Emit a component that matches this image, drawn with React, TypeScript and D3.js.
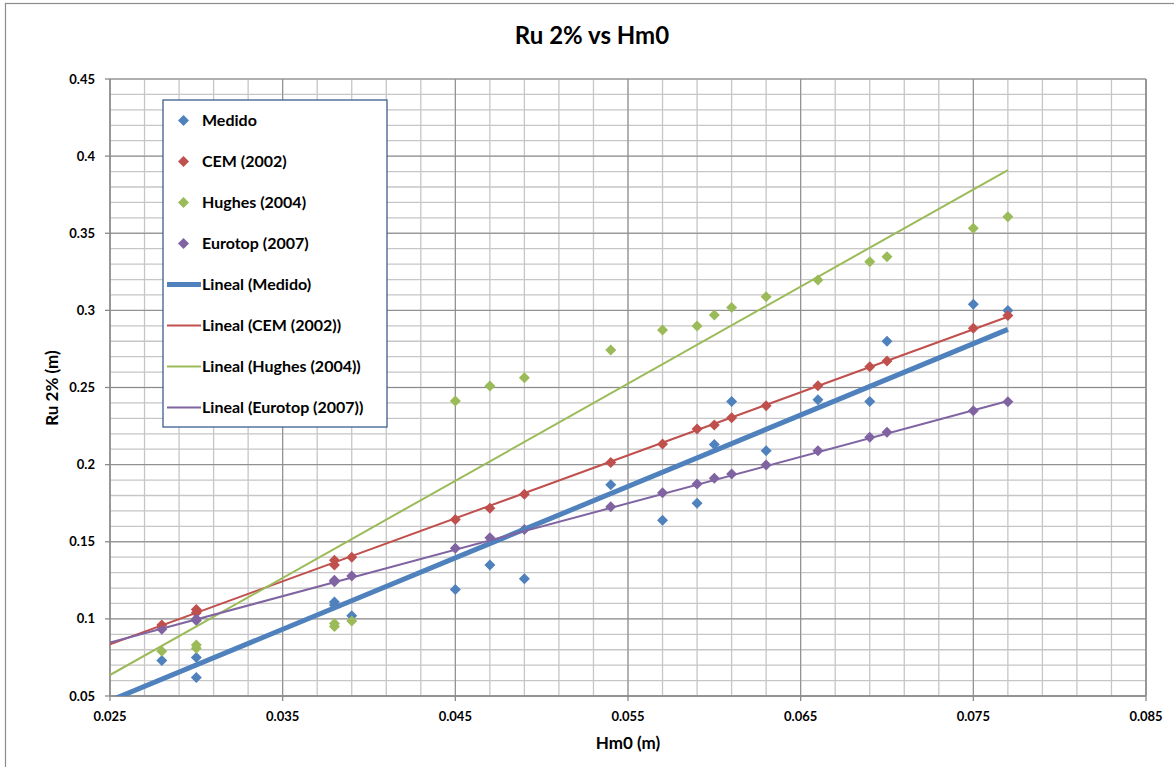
import React from "react";
import * as d3 from "d3";

const hm0 = [0.028, 0.030, 0.030, 0.038, 0.038, 0.039, 0.045, 0.047, 0.049, 0.054, 0.057, 0.059, 0.060, 0.061, 0.063, 0.066, 0.069, 0.070, 0.075, 0.077];
const medido = [0.073, 0.075, 0.062, 0.111, 0.109, 0.102, 0.119, 0.135, 0.126, 0.187, 0.164, 0.175, 0.213, 0.241, 0.209, 0.242, 0.241, 0.280, 0.304, 0.300];
const cem = [0.096, 0.104, 0.106, 0.135, 0.138, 0.140, 0.1645, 0.1717, 0.1808, 0.2013, 0.2134, 0.2231, 0.2257, 0.2304, 0.2382, 0.2512, 0.2635, 0.2672, 0.2884, 0.2966];
const hughes = [0.079, 0.081, 0.083, 0.097, 0.095, 0.0986, 0.2412, 0.251, 0.2564, 0.2743, 0.2873, 0.2899, 0.297, 0.3018, 0.3089, 0.3197, 0.3316, 0.3348, 0.3532, 0.3607];
const eurotop = [0.0932, 0.099, 0.100, 0.124, 0.125, 0.1278, 0.1458, 0.1526, 0.158, 0.1727, 0.1818, 0.1874, 0.1911, 0.1939, 0.1998, 0.209, 0.2177, 0.221, 0.235, 0.2408];

// Linear trendlines (Excel "Lineal"), values read at Hm0 = trendX[0] and trendX[1]
const trendX = [0.025, 0.077];
const trendMedido = [0.0470, 0.2877];
const trendCem = [0.0835, 0.2959];
const trendHughes = [0.0636, 0.3910];
const trendEurotop = [0.0846, 0.2412];

const seriesNames = ["Medido", "CEM (2002)", "Hughes (2004)", "Eurotop (2007)"];
const seriesColors = ["#4F81BD", "#C0504D", "#9BBB59", "#8064A2"];
const trendWidths = [5, 2, 2, 2];
const seriesValues = [medido, cem, hughes, eurotop];
const trendValues = [trendMedido, trendCem, trendHughes, trendEurotop];

const xTicks = [0.025, 0.035, 0.045, 0.055, 0.065, 0.075, 0.085];
const yTicks = [0.05, 0.1, 0.15, 0.2, 0.25, 0.3, 0.35, 0.4, 0.45];

const FONT = "Lato, 'Open Sans', sans-serif";

function diamond(cx: number, cy: number, r: number) {
  return `M${cx},${cy - r}L${cx + r},${cy}L${cx},${cy + r}L${cx - r},${cy}Z`;
}

export default function App() {
  const W = 1174, H = 767;
  const left = 110, right = 1146, top = 79, bottom = 696;
  const x = d3.scaleLinear().domain([0.025, 0.085]).range([left, right]);
  const y = d3.scaleLinear().domain([0.05, 0.45]).range([bottom, top]);

  const minorX = d3.range(0, 31).map((i) => 0.025 + i * 0.002);
  const minorY = d3.range(0, 41).map((i) => 0.05 + i * 0.01);

  const legendItems = [
    ...seriesNames.map((n, i) => ({ label: n, color: seriesColors[i], type: "marker", w: 0 })),
    ...seriesNames.map((n, i) => ({ label: `Lineal (${n})`, color: seriesColors[i], type: "line", w: trendWidths[i] })),
  ];

  const trendLine = d3.line<number>().x((_, i) => x(trendX[i])).y((v) => y(v));

  return (
    <svg width={W} height={H} style={{ position: "absolute", left: 0, top: 0 }} fontFamily={FONT}>
      <rect x={0} y={0} width={W} height={H} fill="#fff" />
      <rect x={5.5} y={3.5} width={W + 20} height={H + 20} fill="none" stroke="#8c8c8c" strokeWidth={1.2} />
      <defs>
        <clipPath id="plotClip">
          <rect x={left} y={top} width={right - left} height={bottom - top} />
        </clipPath>
      </defs>
      <text x={592} y={44} textAnchor="middle" fontSize={24} fontWeight="bold" fill="#000">Ru 2% vs Hm0</text>

      {/* minor grid */}
      {minorX.map((v, i) => (
        <line key={"mx" + i} x1={x(v)} x2={x(v)} y1={top} y2={bottom} stroke="#c6c6c6" strokeWidth={1.3} />
      ))}
      {minorY.map((v, i) => (
        <line key={"my" + i} x1={left} x2={right} y1={y(v)} y2={y(v)} stroke="#c6c6c6" strokeWidth={1.3} />
      ))}
      {/* major grid */}
      {xTicks.map((v, i) => (
        <line key={"Mx" + i} x1={x(v)} x2={x(v)} y1={top} y2={bottom} stroke="#8a8a8a" strokeWidth={1} />
      ))}
      {yTicks.map((v, i) => (
        <line key={"My" + i} x1={left} x2={right} y1={y(v)} y2={y(v)} stroke="#8a8a8a" strokeWidth={1} />
      ))}
      <line x1={right} x2={right} y1={top} y2={bottom} stroke="#8a8a8a" strokeWidth={1.3} />

      {/* axes */}
      <line x1={left} x2={left} y1={top} y2={bottom} stroke="#8a8a8a" strokeWidth={1.3} />
      <line x1={left} x2={right} y1={bottom} y2={bottom} stroke="#8a8a8a" strokeWidth={1.3} />
      {yTicks.map((v, i) => (
        <g key={"yt" + i}>
          <line x1={left - 5} x2={left} y1={y(v)} y2={y(v)} stroke="#8a8a8a" strokeWidth={1.3} />
          <text x={95} y={y(v)} dy="0.35em" textAnchor="end" fontSize={13} fontWeight="bold">{String(v)}</text>
        </g>
      ))}
      {xTicks.map((v, i) => (
        <g key={"xt" + i}>
          <line x1={x(v)} x2={x(v)} y1={bottom} y2={bottom + 5} stroke="#8a8a8a" strokeWidth={1.3} />
          <text x={x(v)} y={721} textAnchor="middle" fontSize={13} fontWeight="bold">{String(v)}</text>
        </g>
      ))}
      <text x={628} y={749} textAnchor="middle" fontSize={17} fontWeight="bold">Hm0 (m)</text>
      <text transform="translate(58,388) rotate(-90)" textAnchor="middle" fontSize={17} fontWeight="bold">Ru 2% (m)</text>

      {/* markers */}
      {seriesValues.map((vals, si) => (
        <g key={"s" + si}>
          {vals.map((v, i) => (
            <path key={i} d={diamond(x(hm0[i]), y(v), 5.5)} fill={seriesColors[si]} />
          ))}
        </g>
      ))}

      {/* trendlines */}
      <g clipPath="url(#plotClip)">
        {trendValues.map((tv, si) => (
          <path key={"t" + si} d={trendLine(tv) || ""} fill="none"
            stroke={seriesColors[si]} strokeWidth={trendWidths[si]} />
        ))}
      </g>

      {/* legend */}
      <rect x={163} y={100} width={224} height={327} fill="#fff" stroke="#3b5f8f" strokeWidth={1.3} />
      {legendItems.map((it, i) => {
        const cy = 120.5 + i * 41;
        return (
          <g key={"l" + i}>
            {it.type === "marker" ? (
              <path d={diamond(183.5, cy, 5.5)} fill={it.color} />
            ) : (
              <line x1={167} x2={201} y1={cy} y2={cy} stroke={it.color} strokeWidth={it.w} />
            )}
            <text x={202} y={cy} dy="0.36em" fontSize={16} fontWeight="bold">{it.label}</text>
          </g>
        );
      })}
    </svg>
  );
}
